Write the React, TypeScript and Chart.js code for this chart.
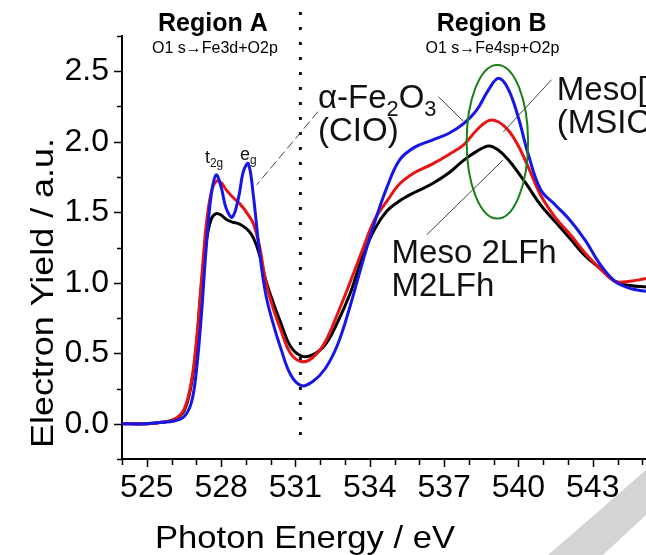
import React, { useEffect, useRef } from "react";
import { Chart, registerables } from "chart.js";

Chart.register(...registerables);

// Photon energy (eV) sample positions
const energy = [
  524, 525, 525.6, 526.1, 526.5, 526.8, 527.0, 527.2, 527.4, 527.6,
  527.8, 528.0, 528.2, 528.45, 528.7, 528.9, 529.1, 529.3, 529.55, 529.8,
  530.1, 530.4, 530.8, 531.25, 531.7, 532.2, 532.7, 533.2, 533.7, 534.2,
  534.7, 535.2, 535.8, 536.5, 537.2, 537.8, 538.3, 538.8, 539.2, 539.6,
  540.0, 540.4, 540.9, 541.5, 542.1, 542.7, 543.3, 543.9, 544.5, 545.15,
];

// α-Fe2O3 (CIO) – blue
const yieldCIO = [
  0.0, 0.0, 0.01, 0.02, 0.05, 0.15, 0.37, 0.76, 1.25, 1.62,
  1.765, 1.68, 1.53, 1.465, 1.6, 1.79, 1.845, 1.62, 1.22, 0.92,
  0.71, 0.54, 0.35, 0.27, 0.3, 0.39, 0.56, 0.83, 1.14, 1.43,
  1.68, 1.87, 1.96, 2.01, 2.06, 2.13, 2.22, 2.37, 2.45, 2.37,
  2.17, 1.91, 1.66, 1.55, 1.44, 1.3, 1.13, 1.01, 0.96, 0.94,
];

// Meso (MSIO) – red
const yieldMSIO = [
  0.0, 0.0, 0.01, 0.03, 0.1, 0.3, 0.58, 1.0, 1.41, 1.64,
  1.72, 1.71, 1.66, 1.61, 1.57, 1.53, 1.48, 1.42, 1.26, 1.01,
  0.82, 0.67, 0.5, 0.44, 0.47, 0.58, 0.78, 1.0, 1.23, 1.45,
  1.58, 1.7, 1.78, 1.84, 1.91, 1.98, 2.08, 2.15, 2.14, 2.08,
  1.97, 1.82, 1.62, 1.46, 1.34, 1.21, 1.1, 1.01, 1.01, 1.03,
];

// Meso 2LFh (M2LFh) – black
const yieldM2LFh = [
  0.0, 0.0, 0.01, 0.03, 0.09, 0.28, 0.55, 0.97, 1.29, 1.45,
  1.49, 1.48, 1.45, 1.43, 1.42, 1.4, 1.37, 1.32, 1.2, 1.02,
  0.86, 0.72, 0.55, 0.48, 0.49, 0.56, 0.72, 0.92, 1.18, 1.38,
  1.51, 1.58, 1.64, 1.7, 1.78, 1.87, 1.93, 1.97, 1.94, 1.87,
  1.78, 1.68, 1.55, 1.43, 1.31, 1.19, 1.1, 1.01, 0.98, 0.97,
];

const xTickValues = [
  524, 525, 526, 527, 528, 529, 530, 531, 532, 533, 534,
  535, 536, 537, 538, 539, 540, 541, 542, 543, 544, 545,
];
const xLabelValues = [525, 528, 531, 534, 537, 540, 543];
const yTickValues = [-0.25, 0, 0.25, 0.5, 0.75, 1, 1.25, 1.5, 1.75, 2, 2.25, 2.5, 2.75];
const yLabelValues = [0, 0.5, 1, 1.5, 2, 2.5];

const xTitle = "Photon Energy / eV";
const yTitle = "Electron Yield / a.u.";

// region boundary (eV) and its vertical extent
const regionBoundary = 531.2;
const boundaryRange = [2.92, -0.13];

// green ellipse around the Region B peak: centre (eV, yield) and radii
const ellipseCenter = [539.15, 2.0];
const ellipseRadii = [1.24, 0.545];

// leader lines [x1, y1, x2, y2] in data units
const leaderLines = [
  [536.77, 2.32, 537.78, 2.145],
  [541.34, 2.44, 539.39, 2.07],
  [536.3, 1.34, 539.38, 1.87],
];
const dashedLeader = [531.91, 2.213, 529.44, 1.695];

// region headings: [text, x, y]
const regionTitles: [string, number, number][] = [
  ["Region A", 527.67, 2.784],
  ["Region B", 538.92, 2.784],
];
const regionSubtitles: [string, number, number][] = [
  ["O1 s\u2192Fe3d+O2p", 527.75, 2.631],
  ["O1 s\u2192Fe4sp+O2p", 538.95, 2.631],
];

type Part = { t: string; sub?: boolean };
// sample labels: [parts, x, y]
const sampleLabels: [Part[], number, number][] = [
  [[{ t: "\u03b1-Fe" }, { t: "2", sub: true }, { t: "O" }, { t: "3", sub: true }], 531.91, 2.241],
  [[{ t: "(CIO)" }], 531.91, 2.007],
  [[{ t: "Meso[" }], 541.55, 2.298],
  [[{ t: "(MSIO)" }], 541.55, 2.064],
  [[{ t: "Meso 2LFh" }], 534.88, 1.142],
  [[{ t: "M2LFh" }], 534.88, 0.908],
];
const peakLabels: [Part[], number, number][] = [
  [[{ t: "t" }, { t: "2g", sub: true }], 527.35, 1.851],
  [[{ t: "e" }, { t: "g", sub: true }], 528.76, 1.872],
];

const FONT = "'Liberation Sans', Arial, Helvetica, sans-serif";

function drawParts(ctx: CanvasRenderingContext2D, parts: Part[], x: number, y: number, size: number) {
  let cx = x;
  for (const p of parts) {
    const fs = p.sub ? size * 0.66 : size;
    ctx.font = `${fs}px ${FONT}`;
    ctx.fillText(p.t, cx, y + (p.sub ? size * 0.26 : 0));
    cx += ctx.measureText(p.t).width;
  }
}

const overlayPlugin = {
  id: "overlay",
  afterDatasetsDraw(chart: any) {
    const ctx: CanvasRenderingContext2D = chart.ctx;
    const xs = chart.scales.x;
    const ys = chart.scales.y;
    ctx.save();
    // dotted region boundary
    ctx.strokeStyle = "#111";
    ctx.lineWidth = 3;
    ctx.setLineDash([3, 12]);
    ctx.beginPath();
    const bx = xs.getPixelForValue(regionBoundary);
    ctx.moveTo(bx, ys.getPixelForValue(boundaryRange[0]));
    ctx.lineTo(bx, ys.getPixelForValue(boundaryRange[1]));
    ctx.stroke();
    ctx.setLineDash([]);

    // ellipse
    const ex = xs.getPixelForValue(ellipseCenter[0]);
    const ey = ys.getPixelForValue(ellipseCenter[1]);
    const rx = Math.abs(xs.getPixelForValue(ellipseCenter[0] + ellipseRadii[0]) - ex);
    const ry = Math.abs(ys.getPixelForValue(ellipseCenter[1] + ellipseRadii[1]) - ey);
    ctx.strokeStyle = "#1a7f1a";
    ctx.lineWidth = 2;
    ctx.beginPath();
    ctx.ellipse(ex, ey, rx, ry, 0, 0, Math.PI * 2);
    ctx.stroke();

    // leader lines
    ctx.strokeStyle = "#444";
    ctx.lineWidth = 1;
    for (const l of leaderLines) {
      ctx.beginPath();
      ctx.moveTo(xs.getPixelForValue(l[0]), ys.getPixelForValue(l[1]));
      ctx.lineTo(xs.getPixelForValue(l[2]), ys.getPixelForValue(l[3]));
      ctx.stroke();
    }
    ctx.setLineDash([9, 4]);
    ctx.beginPath();
    ctx.moveTo(xs.getPixelForValue(dashedLeader[0]), ys.getPixelForValue(dashedLeader[1]));
    ctx.lineTo(xs.getPixelForValue(dashedLeader[2]), ys.getPixelForValue(dashedLeader[3]));
    ctx.stroke();
    ctx.setLineDash([]);
    ctx.restore();
  },
  afterDraw(chart: any) {
    const ctx: CanvasRenderingContext2D = chart.ctx;
    const xs = chart.scales.x;
    const ys = chart.scales.y;
    const area = chart.chartArea;
    ctx.save();

    // tick marks
    ctx.strokeStyle = "#000";
    ctx.lineWidth = 1.5;
    ctx.beginPath();
    for (const v of xTickValues) {
      const px = Math.round(xs.getPixelForValue(v)) + 0.5;
      const len = xLabelValues.includes(v) ? 8 : 6;
      ctx.moveTo(px, area.bottom);
      ctx.lineTo(px, area.bottom + len);
    }
    for (const v of yTickValues) {
      const py = Math.round(ys.getPixelForValue(v)) + 0.5;
      const len = yLabelValues.includes(v) ? 8 : 5;
      ctx.moveTo(area.left, py);
      ctx.lineTo(area.left - len, py);
    }
    ctx.stroke();

    ctx.fillStyle = "#000";
    ctx.textBaseline = "alphabetic";

    // region headings
    ctx.textAlign = "center";
    ctx.font = `bold 25px ${FONT}`;
    for (const [t, x, y] of regionTitles) {
      ctx.fillText(t, xs.getPixelForValue(x), ys.getPixelForValue(y));
    }
    ctx.font = `16px ${FONT}`;
    for (const [t, x, y] of regionSubtitles) {
      ctx.fillText(t, xs.getPixelForValue(x), ys.getPixelForValue(y));
    }

    // sample labels
    ctx.textAlign = "left";
    ctx.fillStyle = "#111";
    for (const [parts, x, y] of sampleLabels) {
      drawParts(ctx, parts, xs.getPixelForValue(x), ys.getPixelForValue(y), 33);
    }
    for (const [parts, x, y] of peakLabels) {
      drawParts(ctx, parts, xs.getPixelForValue(x), ys.getPixelForValue(y), 18);
    }

    // axis titles
    ctx.fillStyle = "#000";
    ctx.font = `32px ${FONT}`;
    ctx.textAlign = "center";
    let w = ctx.measureText(xTitle).width;
    ctx.save();
    ctx.translate(305, 548);
    ctx.scale(300 / w, 1);
    ctx.fillText(xTitle, 0, 0);
    ctx.restore();

    w = ctx.measureText(yTitle).width;
    ctx.save();
    ctx.translate(53, 293);
    ctx.rotate(-Math.PI / 2);
    ctx.scale(310 / w, 1);
    ctx.fillText(yTitle, 0, 0);
    ctx.restore();

    // light grey watermark shape
    ctx.fillStyle = "#d4d4d4";
    ctx.beginPath();
    ctx.moveTo(548, 555);
    ctx.lineTo(646, 470);
    ctx.lineTo(646, 515);
    ctx.lineTo(603, 555);
    ctx.closePath();
    ctx.fill();

    ctx.restore();
  },
};

export default function App() {
  const ref = useRef<HTMLCanvasElement | null>(null);

  useEffect(() => {
    document.body.style.margin = "0";
    const canvas = ref.current;
    if (!canvas) return;
    const mk = (vals: number[]) => energy.map((x, i) => ({ x, y: vals[i] }));
    const common = { borderWidth: 3, pointRadius: 0, tension: 0.38, fill: false };
    const chart = new Chart(canvas, {
      type: "line",
      data: {
        datasets: [
          { label: "CIO", data: mk(yieldCIO), borderColor: "#1616e6", ...common },
          { label: "MSIO", data: mk(yieldMSIO), borderColor: "#e81414", ...common },
          { label: "M2LFh", data: mk(yieldM2LFh), borderColor: "#000000", ...common },
        ],
      },
      options: {
        animation: false,
        responsive: false,
        maintainAspectRatio: false,
        layout: { padding: { top: 36, right: 0, bottom: 0, left: 0 } },
        plugins: { legend: { display: false }, tooltip: { enabled: false } },
        scales: {
          x: {
            type: "linear",
            min: 524,
            max: 545.15,
            afterBuildTicks: (s: any) => {
              s.ticks = xTickValues.map((v) => ({ value: v }));
            },
            afterFit: (s: any) => {
              s.height = 96;
            },
            ticks: {
              autoSkip: false,
              maxRotation: 0,
              minRotation: 0,
              padding: 2,
              color: "#000",
              font: { family: FONT, size: 32 },
              callback: (v: any) => (xLabelValues.includes(Number(v)) ? String(v) : ""),
            },
            grid: { drawOnChartArea: false, drawTicks: true, tickLength: 8, color: "rgba(0,0,0,0)" },
            border: { color: "#000", width: 2 },
          },
          y: {
            type: "linear",
            min: -0.25,
            max: 2.75,
            afterBuildTicks: (s: any) => {
              s.ticks = yTickValues.map((v) => ({ value: v }));
            },
            afterFit: (s: any) => {
              s.width = 122;
            },
            ticks: {
              autoSkip: false,
              padding: 5,
              color: "#000",
              font: { family: FONT, size: 32 },
              callback: (v: any) => (yLabelValues.includes(Number(v)) ? Number(v).toFixed(1) : ""),
            },
            grid: { drawOnChartArea: false, drawTicks: true, tickLength: 8, color: "rgba(0,0,0,0)" },
            border: { color: "#000", width: 2 },
          },
        },
      } as any,
      plugins: [overlayPlugin],
    });
    return () => chart.destroy();
  }, []);

  return (
    <div style={{ position: "fixed", left: 0, top: 0, width: 646, height: 555, background: "#fff" }}>
      <canvas ref={ref} width={646} height={555} />
    </div>
  );
}
